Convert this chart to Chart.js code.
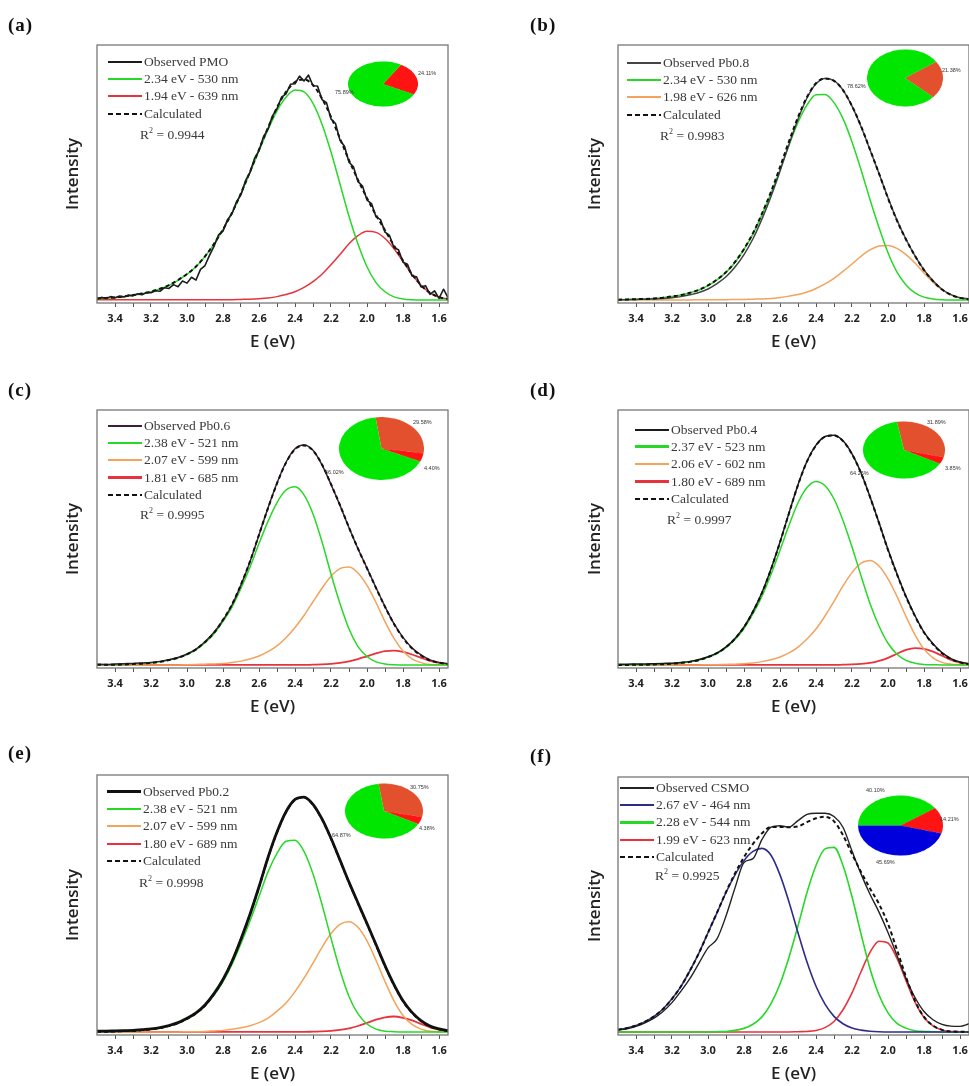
<!DOCTYPE html>
<html>
<head>
<meta charset="utf-8">
<script src="https://cdn.jsdelivr.net/npm/chart.js@4.4.1/dist/chart.umd.min.js"></script>
<style>
  body { margin: 0; background: #fff; }
  #page { position: relative; width: 969px; height: 1086px; overflow: hidden; background: #fff; }
  .plot { position: absolute; }
  .tag { position: absolute; font: bold 19px "Liberation Serif", serif; color: #111; letter-spacing: 1px; }
  .legend { position: absolute; font: 13.5px "Liberation Serif", serif; color: #3a3a3a; }
  .legend .row { display: flex; align-items: center; height: 17.3px; white-space: nowrap; }
  .legend .swatch { display: inline-block; width: 34px; margin-right: 2px; }
  .r2 { position: absolute; font: 13.5px "Liberation Serif", serif; color: #3a3a3a; white-space: nowrap; }
  .r2 sup { font-size: 8px; }
  .pie { position: absolute; }
  .pct { position: absolute; font: 5.5px "Liberation Sans", sans-serif; color: #333; white-space: nowrap; }
</style>
</head>
<body>
<div id="page"></div>
<script>
// energy grid (eV), shared by every panel
const energy = [3.50,3.45,3.40,3.35,3.30,3.25,3.20,3.15,3.10,3.05,
                3.00,2.95,2.90,2.85,2.80,2.75,2.70,2.65,2.60,2.55,
                2.50,2.45,2.40,2.35,2.30,2.25,2.20,2.15,2.10,2.05,
                2.00,1.95,1.90,1.85,1.80,1.75,1.70,1.65,1.60,1.55];
// finer grid for the noisy PMO trace
const energyFine = [3.500,3.475,3.450,3.425,3.400,3.375,3.350,3.325,3.300,3.275,
                    3.250,3.225,3.200,3.175,3.150,3.125,3.100,3.075,3.050,3.025,
                    3.000,2.975,2.950,2.925,2.900,2.875,2.850,2.825,2.800,2.775,
                    2.750,2.725,2.700,2.675,2.650,2.625,2.600,2.575,2.550,2.525,
                    2.500,2.475,2.450,2.425,2.400,2.375,2.350,2.325,2.300,2.275,
                    2.250,2.225,2.200,2.175,2.150,2.125,2.100,2.075,2.050,2.025,
                    2.000,1.975,1.950,1.925,1.900,1.875,1.850,1.825,1.800,1.775,
                    1.750,1.725,1.700,1.675,1.650,1.625,1.600,1.575,1.550];
const majorTicks = [3.4,3.2,3.0,2.8,2.6,2.4,2.2,2.0,1.8,1.6];
const minorTicks = [3.4,3.3,3.2,3.1,3.0,2.9,2.8,2.7,2.6,2.5,2.4,2.3,2.2,2.1,2.0,1.9,1.8,1.7,1.6];

// (a) PMO
const aNames = ['Observed PMO','2.34 eV - 530 nm','1.94 eV - 639 nm','Calculated'];
const aObserved = [0.4,1.0,0.6,1.3,0.9,1.5,1.2,1.9,1.6,2.4,
                   2.0,2.9,2.8,3.6,3.4,4.8,4.5,6.0,5.2,7.4,
                   6.6,8.9,7.8,12.0,13.5,17.5,21.0,25.5,27.0,31.5,
                   33.8,38.5,41.3,46.8,50.0,55.5,58.6,64.0,67.0,72.2,
                   75.0,79.5,80.8,84.6,84.8,87.8,85.9,88.2,84.0,83.9,
                   78.6,77.4,71.0,69.2,62.6,60.3,54.0,52.2,46.4,44.7,
                   39.2,37.8,32.6,31.5,26.6,25.3,20.5,19.7,14.8,14.0,
                   9.4,9.1,5.1,5.6,2.2,3.6,0.6,4.2,0.9];
const aGreen = [0.5,0.7,0.9,1.3,1.8,2.4,3.2,4.3,5.7,7.7,
                10.1,13.0,17.0,21.9,27.6,34.1,41.7,50.0,58.5,66.8,
                74.2,79.5,82.3,81.6,77.1,68.9,58.0,45.5,32.8,21.9,
                13.0,6.8,3.2,1.2,0.4,0.1,0,0,0,0];
const aRed = [0.1,0.1,0.1,0.1,0.1,0.1,0.1,0.1,0.1,0.1,
              0.1,0.1,0.1,0.1,0.1,0.1,0.2,0.3,0.5,0.8,
              1.3,2.1,3.2,4.9,7.2,10.1,13.8,17.8,22.0,25.2,
              26.9,26.5,24.1,20.1,15.1,10.0,5.8,2.8,1.1,0.4];
const aCalc = [0.6,0.8,1.0,1.4,1.9,2.5,3.3,4.4,5.8,7.8,
               10.2,13.1,17.1,22.0,27.7,34.2,41.9,50.3,59.0,67.6,
               75.5,81.6,85.5,86.5,84.3,79.0,71.8,63.3,54.8,47.1,
               39.9,33.3,27.3,21.3,15.5,10.1,5.8,2.8,1.1,0.4];
const aR2 = '0.9944';
const aShares = [24.11, 75.89];

// (b) Pb0.8
const bNames = ['Observed Pb0.8','2.34 eV - 530 nm','1.98 eV - 626 nm','Calculated'];
const bObserved = [0.1,0.1,0.2,0.3,0.4,0.6,0.9,1.3,2.0,2.9,
                   4.3,6.4,9.1,12.9,17.8,24.0,31.8,40.6,50.5,61.0,
                   70.9,79.2,84.8,86.9,86.0,82.3,76.0,68.0,58.9,49.6,
                   40.1,31.3,23.8,17.3,11.8,7.5,4.2,2.1,0.9,0.4];
const bGreen = [0.1,0.2,0.3,0.4,0.6,0.9,1.4,1.9,2.8,3.9,
                5.6,7.9,10.8,14.7,19.8,25.9,33.5,41.8,51.1,60.7,
                69.6,76.5,80.5,80.6,77.4,71.1,62.0,51.1,39.4,28.4,
                18.5,10.9,5.9,2.8,1.1,0.4,0.1,0,0,0];
const bOrange = [0,0,0,0,0,0,0,0,0,0.1,
                 0.1,0.1,0.1,0.2,0.2,0.3,0.4,0.6,1.0,1.5,
                 2.1,3.1,4.5,6.3,8.5,11.2,14.1,17.1,19.6,21.2,
                 21.4,20.2,17.8,14.5,10.6,7.0,4.0,2.0,0.8,0.3];
const bCalc = [0.1,0.2,0.3,0.4,0.6,0.9,1.4,1.9,2.8,4.0,
               5.7,8.0,10.9,14.9,20.0,26.2,33.9,42.4,52.1,62.2,
               71.7,79.6,85.0,86.9,85.9,82.3,76.1,68.2,59.0,49.6,
               39.9,31.1,23.7,17.3,11.7,7.4,4.1,2.0,0.8,0.3];
const bR2 = '0.9983';
const bShares = [21.38, 78.62];

// (c) Pb0.6
const cNames = ['Observed Pb0.6','2.38 eV - 521 nm','2.07 eV - 599 nm','1.81 eV - 685 nm','Calculated'];
const cObserved = [0.3,0.2,0.4,0.5,0.6,0.8,1.0,1.4,2.0,2.9,
                   4.3,6.2,9.1,12.8,17.6,23.5,31.4,40.5,51.0,61.6,
                   71.4,79.5,84.8,86.3,84.2,78.5,70.8,62.6,53.8,45.6,
                   38.0,30.3,22.9,16.2,10.8,6.7,3.9,2.0,1.0,0.5];
const cGreen = [0.1,0.1,0.1,0.2,0.4,0.5,0.8,1.2,1.9,2.8,
                4.1,5.9,8.7,12.2,17.1,22.7,30.1,38.3,47.6,56.3,
                63.7,68.6,69.9,66.7,59.2,48.3,35.7,24.1,14.1,7.2,
                3.3,1.2,0.4,0.1,0,0,0,0,0,0];
const cOrange = [0,0,0,0,0,0,0,0,0,0,
                 0.1,0.2,0.3,0.4,0.6,1.0,1.5,2.3,3.5,5.2,
                 7.5,10.7,14.7,19.4,24.8,30.1,34.8,37.8,38.4,36.1,
                 31.2,24.5,17.0,10.4,5.5,2.4,0.9,0.2,0.1,0];
const cRed = [0,0,0,0,0,0,0,0,0,0,
              0,0,0,0,0,0,0,0,0,0,
              0,0,0,0,0.1,0.2,0.4,0.8,1.4,2.3,
              3.4,4.5,5.4,5.6,5.1,4.1,2.8,1.6,0.8,0.3];
const cCalc = [0.1,0.1,0.1,0.2,0.4,0.5,0.8,1.2,1.9,2.8,
               4.2,6.1,9.0,12.6,17.7,23.7,31.6,40.6,51.1,61.5,
               71.2,79.3,84.6,86.1,84.1,78.6,70.9,62.7,53.9,45.6,
               37.9,30.2,22.8,16.1,10.6,6.5,3.7,1.8,0.9,0.3];
const cR2 = '0.9995';
const cShares = [29.58, 4.40, 66.02];

// (d) Pb0.4
const dNames = ['Observed Pb0.4','2.37 eV - 523 nm','2.06 eV - 602 nm','1.80 eV - 689 nm','Calculated'];
const dObserved = [0.3,0.3,0.4,0.4,0.5,0.6,0.7,1.0,1.4,2.1,
                   3.2,4.7,7.1,10.4,14.9,21.0,28.4,37.6,48.2,59.6,
                   70.7,79.9,86.2,89.6,90.1,87.9,82.8,75.4,66.0,55.8,
                   45.3,35.7,26.9,19.3,12.9,8.3,4.8,2.5,1.2,0.5];
const dGreen = [0,0,0.1,0.1,0.2,0.3,0.5,0.8,1.2,1.9,
                3.0,4.5,6.8,10.0,14.3,20.1,27.0,35.5,45.0,54.8,
                63.6,69.6,72.0,70.3,65.1,56.7,46.3,35.0,24.1,15.3,
                8.5,4.2,1.8,0.7,0.2,0.1,0,0,0,0];
const dOrange = [0,0,0,0,0,0,0,0,0,0,
                 0.1,0.1,0.2,0.3,0.5,0.8,1.3,2.0,3.1,4.7,
                 7.0,10.2,14.1,19.2,24.9,31.0,36.2,39.9,41.0,38.8,
                 33.8,26.9,19.0,11.8,6.2,2.8,1.0,0.3,0.1,0];
const dRed = [0,0,0,0,0,0,0,0,0,0,
              0,0,0,0,0,0,0,0,0,0,
              0,0,0,0,0,0.1,0.2,0.4,0.8,1.6,
              2.8,4.4,5.9,6.6,6.3,5.2,3.6,2.0,0.9,0.3];
const dCalc = [0,0,0.1,0.1,0.2,0.3,0.5,0.8,1.2,1.9,
               3.1,4.6,7.0,10.3,14.8,20.9,28.3,37.5,48.1,59.5,
               70.6,79.8,86.1,89.5,90.0,87.8,82.7,75.3,65.9,55.7,
               45.1,35.5,26.7,19.1,12.7,8.1,4.6,2.3,1.0,0.3];
const dR2 = '0.9997';
const dShares = [31.89, 3.85, 64.26];

// (e) Pb0.2
const eNames = ['Observed Pb0.2','2.38 eV - 521 nm','2.07 eV - 599 nm','1.80 eV - 689 nm','Calculated'];
const eObserved = [0.3,0.3,0.4,0.5,0.6,0.9,1.2,1.7,2.5,3.6,
                   5.3,7.4,10.5,14.9,20.4,27.5,36.2,45.8,56.5,67.9,
                   77.8,85.7,90.5,91.4,88.6,82.9,75.4,66.9,58.3,50.2,
                   42.2,34.0,25.8,18.4,12.1,7.6,4.4,2.3,1.2,0.5];
const eGreen = [0.1,0.1,0.2,0.3,0.4,0.7,1.0,1.5,2.3,3.4,
                5.0,7.1,10.1,14.3,19.6,26.3,34.4,43.2,52.7,62.3,
                69.5,74.2,74.6,70.3,61.5,49.6,36.5,24.0,13.8,7.0,
                3.1,1.1,0.3,0.1,0,0,0,0,0,0];
const eOrange = [0,0,0,0,0,0,0,0,0,0,
                 0.1,0.1,0.2,0.4,0.6,1.0,1.6,2.4,3.6,5.4,
                 8.1,11.3,15.7,20.9,26.8,32.9,38.3,41.9,42.9,40.7,
                 35.4,27.9,19.6,12.1,6.4,2.9,1.1,0.3,0.1,0];
const eRed = [0,0,0,0,0,0,0,0,0,0,
              0,0,0,0,0,0,0,0,0,0,
              0,0,0,0,0.1,0.2,0.4,0.8,1.4,2.3,
              3.5,4.8,5.7,6.0,5.5,4.5,3.1,1.8,0.9,0.3];
const eCalc = [0.1,0.1,0.2,0.3,0.4,0.7,1.0,1.5,2.3,3.4,
               5.1,7.2,10.3,14.7,20.2,27.3,36.0,45.6,56.3,67.7,
               77.6,85.5,90.3,91.2,88.4,82.7,75.2,66.7,58.1,50.0,
               42.0,33.8,25.6,18.2,11.9,7.4,4.2,2.1,1.0,0.3];
const eR2 = '0.9998';
const eShares = [30.75, 4.38, 64.87];

// (f) CSMO
const fNames = ['Observed CSMO','2.67 eV - 464 nm','2.28 eV - 544 nm','1.99 eV - 623 nm','Calculated'];
const fObserved = [0.8,1.2,2.2,3.6,5.4,8.0,11.5,16.0,21.0,27.0,
                   33.0,36.5,45.5,56.5,66.5,68.0,75.5,80.3,80.9,80.3,
                   82.9,85.3,85.8,85.8,84.5,80.3,71.0,62.0,54.0,47.0,
                   39.0,30.0,21.0,13.5,8.0,4.8,3.0,2.3,2.2,3.2];
const fBlue = [0.9,1.5,2.5,4.0,6.1,9.0,13.0,17.9,24.1,31.0,
               38.9,46.7,54.7,61.6,67.2,70.8,72.0,69.3,61.6,51.0,
               38.9,27.4,17.9,10.9,6.1,3.2,1.5,0.7,0.3,0.1,
               0,0,0,0,0,0,0,0,0,0];
const fGreen = [0,0,0,0,0,0,0,0,0,0,
                0,0.1,0.2,0.6,1.4,3.0,5.9,11.1,18.8,29.3,
                41.6,54.7,65.3,71.8,72.4,65.3,53.0,38.5,24.8,14.5,
                7.5,3.4,1.5,0.5,0.2,0.1,0,0,0,0];
const fRed = [0,0,0,0,0,0,0,0,0,0,
              0,0,0,0,0,0,0,0,0,0,
              0.1,0.2,0.6,1.7,4.1,8.7,15.3,23.6,31.2,35.6,
              34.9,28.8,20.1,11.7,5.7,2.4,0.8,0.2,0.1,0];
const fCalc = [0.9,1.5,2.5,4.0,6.1,9.0,13.0,17.9,24.1,31.0,
               38.9,46.8,54.9,62.2,68.6,73.8,77.9,80.4,80.4,80.3,
               80.6,82.3,83.8,84.4,82.6,77.2,69.8,62.8,56.3,50.2,
               42.4,32.2,21.6,12.2,5.9,2.5,0.8,0.2,0.1,0];
const fR2 = '0.9925';
const fShares = [40.10, 14.21, 45.69];

// colours
const GREEN = '#27d827', RED = '#e8333c', ORANGE = '#f3a35c', BLUE = '#2d2d88', CALC = '#111';
const PIE_GREEN = '#00e600', PIE_RED = '#ff1414', PIE_ORANGE = '#e2502e', PIE_BLUE = '#0000dc';

const LEFT = { left: 0, width: 480, yWidth: 97, padRight: 32, titlePad: 63 };
const RIGHT = { left: 500, width: 469, yWidth: 118, padRight: 0, titlePad: 85 };

const panels = [
  { tag: '(a)', tagPos: [8, 14], col: LEFT, top: 35, height: 318, r2: aR2,
    series: [
      { name: aNames[0], values: aObserved, x: energyFine, jagged: true, color: '#1b1b1b', width: 1.6, order: 0 },
      { name: aNames[1], values: aGreen, color: GREEN, width: 1.5, order: 2 },
      { name: aNames[2], values: aRed, color: RED, width: 1.5, order: 3 },
      { name: aNames[3], values: aCalc, color: CALC, width: 2, dash: true, order: 1 }],
    legend: { x: 108, y: 53, r2x: 140, r2y: 126 },
    pie: { cx: 383, cy: 84, w: 70, h: 45, rotation: 31, shares: aShares, colors: [PIE_RED, PIE_GREEN],
           labelPos: [[418, 73], [335, 92]] } },
  { tag: '(b)', tagPos: [530, 14], col: RIGHT, top: 35, height: 318, r2: bR2,
    series: [
      { name: bNames[0], values: bObserved, color: '#444', width: 1.5, order: 1 },
      { name: bNames[1], values: bGreen, color: GREEN, width: 1.5, order: 2 },
      { name: bNames[2], values: bOrange, color: ORANGE, width: 1.5, order: 3 },
      { name: bNames[3], values: bCalc, color: CALC, width: 2, dash: true, order: 0 }],
    legend: { x: 627, y: 54, r2x: 660, r2y: 127 },
    pie: { cx: 905, cy: 78, w: 76, h: 57, rotation: 55, shares: bShares, colors: [PIE_ORANGE, PIE_GREEN],
           labelPos: [[942, 70], [847, 86]] } },
  { tag: '(c)', tagPos: [8, 379], col: LEFT, top: 400, height: 318, r2: cR2,
    series: [
      { name: cNames[0], values: cObserved, color: '#3d2037', width: 1.5, order: 1 },
      { name: cNames[1], values: cGreen, color: GREEN, width: 1.5, order: 2 },
      { name: cNames[2], values: cOrange, color: ORANGE, width: 1.5, order: 3 },
      { name: cNames[3], values: cRed, color: RED, width: 1.8, legendWidth: 3, order: 4 },
      { name: cNames[4], values: cCalc, color: CALC, width: 2, dash: true, order: 0 }],
    legend: { x: 108, y: 417, r2x: 140, r2y: 506 },
    pie: { cx: 381, cy: 448, w: 85, h: 63, rotation: -8, shares: cShares, colors: [PIE_ORANGE, PIE_RED, PIE_GREEN],
           labelPos: [[413, 422], [424, 468], [325, 472]] } },
  { tag: '(d)', tagPos: [530, 379], col: RIGHT, top: 400, height: 318, r2: dR2,
    series: [
      { name: dNames[0], values: dObserved, color: '#1b1b1b', width: 1.5, order: 1 },
      { name: dNames[1], values: dGreen, color: GREEN, width: 1.5, legendWidth: 3, order: 2 },
      { name: dNames[2], values: dOrange, color: ORANGE, width: 1.5, order: 3 },
      { name: dNames[3], values: dRed, color: RED, width: 1.8, legendWidth: 3, order: 4 },
      { name: dNames[4], values: dCalc, color: CALC, width: 2, dash: true, order: 0 }],
    legend: { x: 635, y: 421, r2x: 667, r2y: 511 },
    pie: { cx: 904, cy: 450, w: 82, h: 57, rotation: -10, shares: dShares, colors: [PIE_ORANGE, PIE_RED, PIE_GREEN],
           labelPos: [[927, 422], [945, 468], [850, 473]] } },
  { tag: '(e)', tagPos: [8, 742], col: LEFT, top: 765, height: 320, r2: eR2,
    series: [
      { name: eNames[0], values: eObserved, color: '#111', width: 2.8, legendWidth: 3, order: 0 },
      { name: eNames[1], values: eGreen, color: GREEN, width: 1.5, order: 2 },
      { name: eNames[2], values: eOrange, color: ORANGE, width: 1.5, order: 3 },
      { name: eNames[3], values: eRed, color: RED, width: 1.8, order: 4 },
      { name: eNames[4], values: eCalc, color: CALC, width: 2, dash: true, order: 1 }],
    legend: { x: 107, y: 783, r2x: 139, r2y: 874 },
    pie: { cx: 384, cy: 811, w: 78, h: 55, rotation: -8, shares: eShares, colors: [PIE_ORANGE, PIE_RED, PIE_GREEN],
           labelPos: [[410, 787], [419, 828], [332, 835]] } },
  { tag: '(f)', tagPos: [530, 745], col: RIGHT, top: 767, height: 318, r2: fR2,
    series: [
      { name: fNames[0], values: fObserved, color: '#222', width: 1.4, order: 1 },
      { name: fNames[1], values: fBlue, color: BLUE, width: 1.6, order: 2 },
      { name: fNames[2], values: fGreen, color: GREEN, width: 1.6, legendWidth: 3, order: 3 },
      { name: fNames[3], values: fRed, color: RED, width: 1.6, order: 4 },
      { name: fNames[4], values: fCalc, color: CALC, width: 2, dash: true, order: 0 }],
    legend: { x: 620, y: 779, r2x: 655, r2y: 867 },
    pie: { cx: 900, cy: 825, w: 85, h: 60, rotation: 270, shares: fShares, colors: [PIE_GREEN, PIE_RED, PIE_BLUE],
           labelPos: [[866, 790], [940, 819], [876, 862]] } }
];

const page = document.getElementById('page');

// box around the plotting area
const framePlugin = {
  id: 'frame',
  afterDraw(chart) {
    const { ctx, chartArea: a } = chart;
    ctx.save();
    ctx.strokeStyle = '#777';
    ctx.lineWidth = 1.3;
    ctx.strokeRect(a.left, a.top, a.right - a.left, a.bottom - a.top);
    ctx.restore();
  }
};

function isMajor(v) {
  return majorTicks.some(m => Math.abs(m - v) < 1e-6);
}

function drawPanel(p) {
  const col = p.col;
  const canvas = document.createElement('canvas');
  canvas.className = 'plot';
  canvas.width = col.width;
  canvas.height = p.height;
  canvas.style.left = col.left + 'px';
  canvas.style.top = p.top + 'px';
  page.appendChild(canvas);

  new Chart(canvas, {
    type: 'line',
    data: {
      datasets: p.series.map(s => {
        const xs = s.x || energy;
        return {
          label: s.name,
          data: xs.map((e, i) => ({ x: e, y: s.values[i] })),
          borderColor: s.color,
          borderWidth: s.width,
          borderDash: s.dash ? [4, 3] : [],
          borderJoinStyle: 'round',
          pointRadius: 0,
          fill: false,
          cubicInterpolationMode: s.jagged ? 'default' : 'monotone',
          tension: 0,
          order: s.order
        };
      })
    },
    options: {
      responsive: false,
      animation: false,
      events: [],
      layout: { padding: { left: 0, right: col.padRight, top: 10, bottom: 0 } },
      plugins: { legend: { display: false }, tooltip: { enabled: false } },
      scales: {
        x: {
          type: 'linear', reverse: true, min: 1.55, max: 3.5,
          afterBuildTicks: s => { s.ticks = minorTicks.map(v => ({ value: v })); },
          afterFit: s => { s.height = 50; s.paddingLeft = 0; s.paddingRight = 0; },
          ticks: {
            autoSkip: false, maxRotation: 0, padding: 5, color: '#222',
            font: { family: 'Open Sans', weight: 'bold', size: 11 },
            callback: v => isMajor(v) ? v.toFixed(1) : ''
          },
          grid: { drawOnChartArea: false, drawTicks: true, tickLength: 4, color: '#555' },
          border: { display: false },
          title: { display: true, text: 'E (eV)', color: '#222',
                   font: { family: 'Open Sans', weight: '600', size: 17 }, padding: { top: 0, bottom: 1 } }
        },
        y: {
          min: -1.2, max: 100,
          ticks: { display: false },
          grid: { display: false },
          border: { display: false },
          afterFit: s => { s.width = col.yWidth; },
          title: { display: true, text: 'Intensity', color: '#222',
                   font: { family: 'Open Sans', weight: '600', size: 17 }, padding: { top: col.titlePad, bottom: 0 } }
        }
      }
    },
    plugins: [framePlugin]
  });

  // panel letter
  const tag = document.createElement('div');
  tag.className = 'tag';
  tag.textContent = p.tag;
  tag.style.left = p.tagPos[0] + 'px';
  tag.style.top = p.tagPos[1] + 'px';
  page.appendChild(tag);

  // legend, in series order
  const lg = document.createElement('div');
  lg.className = 'legend';
  lg.style.left = p.legend.x + 'px';
  lg.style.top = p.legend.y + 'px';
  p.series.forEach(s => {
    const row = document.createElement('div');
    row.className = 'row';
    const sw = document.createElement('span');
    sw.className = 'swatch';
    const lw = s.legendWidth || 2;
    sw.style.height = lw + 'px';
    sw.style.background = s.dash
      ? `repeating-linear-gradient(90deg, ${s.color} 0 5px, transparent 5px 8px)`
      : s.color;
    row.appendChild(sw);
    row.appendChild(document.createTextNode(s.name));
    lg.appendChild(row);
  });
  page.appendChild(lg);

  const r2 = document.createElement('div');
  r2.className = 'r2';
  r2.innerHTML = 'R<sup>2</sup> = ' + p.r2;
  r2.style.left = p.legend.r2x + 'px';
  r2.style.top = p.legend.r2y + 'px';
  page.appendChild(r2);

  // inset pie, squashed into an ellipse
  const pi = p.pie;
  const holder = document.createElement('div');
  holder.className = 'pie';
  holder.style.left = (pi.cx - pi.w / 2) + 'px';
  holder.style.top = (pi.cy - pi.w / 2) + 'px';
  holder.style.width = pi.w + 'px';
  holder.style.height = pi.w + 'px';
  holder.style.transform = `scaleY(${pi.h / pi.w})`;
  const pc = document.createElement('canvas');
  pc.width = pi.w;
  pc.height = pi.w;
  holder.appendChild(pc);
  page.appendChild(holder);
  new Chart(pc, {
    type: 'pie',
    data: { datasets: [{ data: pi.shares, backgroundColor: pi.colors, borderWidth: 0 }] },
    options: {
      responsive: false, animation: false, events: [], rotation: pi.rotation,
      layout: { padding: 0 },
      plugins: { legend: { display: false }, tooltip: { enabled: false } }
    }
  });
  pi.shares.forEach((v, i) => {
    const t = document.createElement('div');
    t.className = 'pct';
    t.textContent = v.toFixed(2) + '%';
    t.style.left = pi.labelPos[i][0] + 'px';
    t.style.top = (pi.labelPos[i][1] - 3) + 'px';
    page.appendChild(t);
  });
}

panels.forEach(drawPanel);
</script>
</body>
</html>
